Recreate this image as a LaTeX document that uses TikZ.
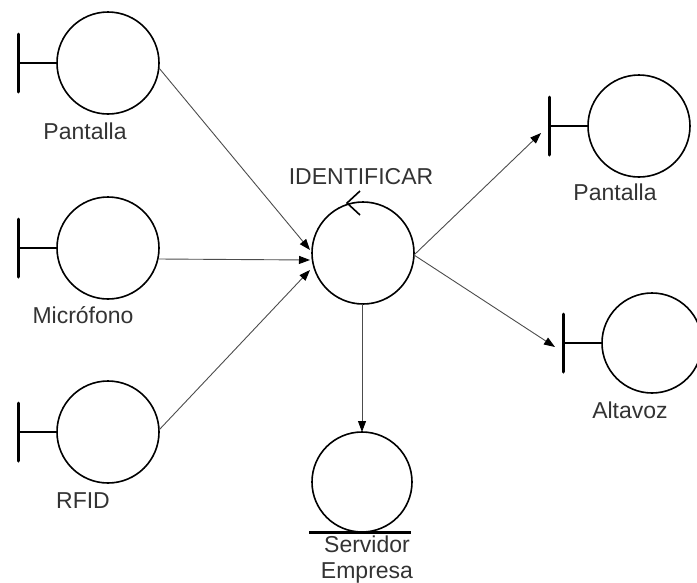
\documentclass[tikz,border=0pt]{standalone}
\usepackage{fontspec}
\setmainfont{Liberation Sans}
\usetikzlibrary{arrows.meta}
\tikzset{
  obj/.style={circle, draw, line width=1.6pt, minimum size=102pt, inner sep=0pt, outer sep=0pt},
  bar/.style={line width=3pt, line cap=round},
  stem/.style={line width=1.6pt},
  flow/.style={draw=black!70, line width=0.9pt, -{Triangle[length=11pt,width=8pt,black]}},
  lbl/.style={anchor=base, text=black!80, font=\fontsize{23}{27}\selectfont, inner sep=0pt}
}
\begin{document}
\begin{tikzpicture}[x=1pt,y=-1pt]
    \useasboundingbox (0,0) rectangle (697,582);
    % objetos
    \node[obj] (pantallaA) at (108,63) {};
    \node[obj] (microfono) at (108,248) {};
    \node[obj] (rfid) at (108,432) {};
    \node[obj] (identificar) at (363,253) {};
    \node[obj] (pantallaB) at (639,126) {};
    \node[obj, minimum size=100pt] (altavoz) at (652,343) {};
    \node[obj, minimum size=100pt] (servidor) at (362,482) {};
    % interfaces
    \foreach \n in {pantallaA,microfono,rfid,pantallaB,altavoz}{
      \draw[stem] (\n.west) -- ++(-39,0);
      \draw[bar] ([shift={(-39,-29)}]\n.west) -- ([shift={(-39,29)}]\n.west);
    }
    % control y entidad
    \draw[stem] ([shift={(-3,-11)}]identificar.north) -- ([shift={(-16,1)}]identificar.north)
      -- ([shift={(-3,13)}]identificar.north);
    \draw[bar, line cap=butt] ([xshift=-53pt]servidor.south) -- ([xshift=49pt]servidor.south);
    % textos
    \node[lbl] (lblPantallaA) at (85,139) {Pantalla};
    \node[lbl] (lblMicrofono) at (83,323) {Micrófono};
    \node[lbl] (lblRfid) at (83,508) {RFID};
    \node[lbl] (lblIdentificar) at (361,184) {IDENTIFICAR};
    \node[lbl] (lblPantallaB) at (615,200) {Pantalla};
    \node[lbl] (lblAltavoz) at (630,418) {Altavoz};
    \node[lbl] (lblServidor) at (367,552) {Servidor};
    \node[lbl] (lblEmpresa) at (367,578) {Empresa};
    % flujos
    \draw[flow] ([shift={(0,5)}]pantallaA.east) -- ([shift={(-2,-3)}]identificar.west);
    \draw[flow] ([shift={(0,11)}]microfono.east) -- ([shift={(-2,7)}]identificar.west);
    \draw[flow] ([shift={(0,-2)}]rfid.east) -- ([shift={(-2,17)}]identificar.west);
    \draw[flow] ([shift={(0,2)}]identificar.east) -- ([shift={(-47,7)}]pantallaB.west);
    \draw[flow] ([shift={(0,2)}]identificar.east) -- ([shift={(-47,4)}]altavoz.west);
    \draw[flow] (servidor.north |- identificar.south) -- (servidor.north);
\end{tikzpicture}
\end{document}
